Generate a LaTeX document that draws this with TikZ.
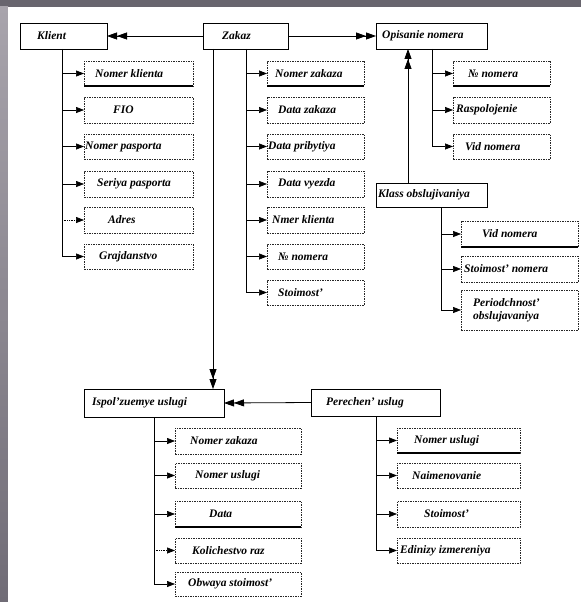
\documentclass[tikz,border=0pt]{standalone}
\usepackage{fontspec}
\setmainfont{Liberation Serif}
\usetikzlibrary{arrows.meta}
\newcommand\abox[7]{\node[attr,minimum width=#4pt,minimum height=#5pt,label={[lbl,xshift=#6pt]west:#7}] (#1) at (#2,#3) {};}
\newcommand\ebox[7]{\node[ent,minimum width=#4pt,minimum height=#5pt,label={[lbl,xshift=#6pt]west:#7}] (#1) at (#2,#3) {};}
\newcommand\keyline[1]{\draw[line width=2pt] (#1.south west) -- (#1.south east);}
\begin{document}
\begin{tikzpicture}[x=1pt,y=-1pt,label distance=0pt,
  ent/.style={draw=black,line width=0.8pt,fill=white,rectangle,inner sep=0pt,outer sep=0pt,anchor=north west},
  attr/.style={draw=black!85,dash pattern=on 1.5pt off 1pt,line width=0.7pt,fill=white,rectangle,inner sep=0pt,outer sep=0pt,anchor=north west},
  lbl/.style={anchor=west,inner sep=0pt,draw=none,fill=none,solid,align=left,font=\fontsize{11.5}{12.5}\selectfont\bfseries\itshape},
  att/.style={draw=black,line width=0.7pt,-{Triangle[length=8pt,width=6pt]}},
  attdot/.style={att,densely dotted},
  dbl/.style={draw=black,line width=0.8pt,-{Triangle[length=10pt,width=7pt]Triangle[length=10pt,width=7pt]}},
  trunk/.style={draw=black,line width=0.8pt}]
\useasboundingbox (0,0) rectangle (581,602);
\fill[fill={rgb,255:red,104;green,101;blue,110}] (0,0) rectangle (581,602);
\shade[top color={rgb,255:red,168;green,164;blue,172},bottom color={rgb,255:red,112;green,108;blue,118}] (0,7) rectangle (8,602);
\fill[white] (8,7) rectangle (581,602);

% entities
\ebox{kl}{20}{23}{87}{26}{17}{Klient}
\ebox{zk}{203}{23}{85}{26}{19}{Zakaz}
\ebox{op}{376}{23}{111}{26}{6}{Opisanie nomera}
\ebox{ko}{376}{183}{111}{24}{2}{Klass obslujivaniya}
\ebox{isp}{84}{389}{140}{28}{8}{Ispol'zuemye uslugi}
\ebox{per}{311}{389}{129}{27}{15}{Perechen' uslug}

% Klient attributes
\abox{k1}{84}{61}{109}{25}{11}{Nomer klienta}
\abox{k2}{84}{97}{109}{26}{29}{FIO}
\abox{k3}{84}{134}{109}{25}{1}{Nomer pasporta}
\abox{k4}{84}{171}{109}{26}{13}{Seriya pasporta}
\abox{k5}{84}{207}{109}{26}{24}{Adres}
\abox{k6}{84}{244}{109}{25}{15}{Grajdanstvo}
\keyline{k1}

% Zakaz attributes
\abox{z1}{267}{61}{97}{25}{8}{Nomer zakaza}
\abox{z2}{267}{97}{97}{26}{11}{Data zakaza}
\abox{z3}{267}{134}{97}{25}{1}{Data pribytiya}
\abox{z4}{267}{171}{97}{26}{11}{Data vyezda}
\abox{z5}{267}{207}{97}{26}{5}{Nmer klienta}
\abox{z6}{267}{244}{97}{25}{11}{№ nomera}
\abox{z7}{267}{280}{97}{25}{11}{Stoimost'}
\keyline{z1}

% Opisanie nomera attributes
\abox{o1}{453}{61}{97}{25}{15}{№ nomera}
\abox{o2}{453}{97}{97}{26}{3}{Raspolojenie}
\abox{o3}{453}{134}{97}{25}{12}{Vid nomera}
\keyline{o1}

% Klass obslujivaniya attributes
\abox{c1}{461}{221}{117}{26}{21}{Vid nomera}
\abox{c2}{461}{256}{117}{26}{3}{Stoimost' nomera}
\abox{c3}{461}{290}{117}{40}{12}{Periodchnost'\\obslujavaniya}
\keyline{c1}

% Ispol'zuemye uslugi attributes
\abox{i1}{175}{428}{126}{26}{15}{Nomer zakaza}
\abox{i2}{175}{463}{126}{25}{20}{Nomer uslugi}
\abox{i3}{175}{501}{126}{26}{34}{Data}
\abox{i4}{175}{538}{126}{25}{17}{Kolichestvo raz}
\abox{i5}{175}{572}{126}{24}{13}{Obwaya stoimost'}
\keyline{i3}

% Perechen' uslug attributes
\abox{p1}{397}{428}{123}{25}{17}{Nomer uslugi}
\abox{p2}{397}{463}{123}{25}{15}{Naimenovanie}
\abox{p3}{397}{501}{123}{26}{27}{Stoimost'}
\abox{p4}{397}{538}{123}{25}{3}{Edinizy izmereniya}
\keyline{p1}

% relationships
\draw[dbl] (zk.west) -- (kl.east);
\draw[dbl] (zk.east) -- (op.west);
\coordinate (zdown) at (213,49);
\draw[dbl] (zdown) -- (zdown |- isp.north);
\coordinate (kup) at (408,183);
\draw[dbl] (kup) -- (kup |- op.south);
\draw[dbl] (per.west) -- (isp.east);

% trunks
\coordinate (kt) at (62,49);
\coordinate (zt) at (246,49);
\coordinate (ot) at (432,49);
\coordinate (ct) at (441,207);
\coordinate (it) at (154,417);
\coordinate (pt) at (376,416);

\draw[att] (kt) |- (k6.west);
\foreach \n in {k1,k2,k3,k4} \draw[att] (kt |- \n.west) -- (\n.west);
\draw[attdot] (kt |- k5.west) -- (k5.west);

\draw[att] (zt) |- (z7.west);
\foreach \n in {z1,z2,z3,z4,z5,z6} \draw[att] (zt |- \n.west) -- (\n.west);

\draw[att] (ot) |- (o3.west);
\foreach \n in {o1,o2} \draw[att] (ot |- \n.west) -- (\n.west);

\draw[att] (ct) |- (c3.west);
\foreach \n in {c1,c2} \draw[att] (ct |- \n.west) -- (\n.west);

\draw[att] (it) |- (i5.west);
\foreach \n in {i1,i2,i3} \draw[att] (it |- \n.west) -- (\n.west);
\draw[attdot] (it |- i4.west) -- (i4.west);

\draw[att] (pt) |- (p4.west);
\foreach \n in {p1,p2,p3} \draw[att] (pt |- \n.west) -- (\n.west);
\end{tikzpicture}
\end{document}
